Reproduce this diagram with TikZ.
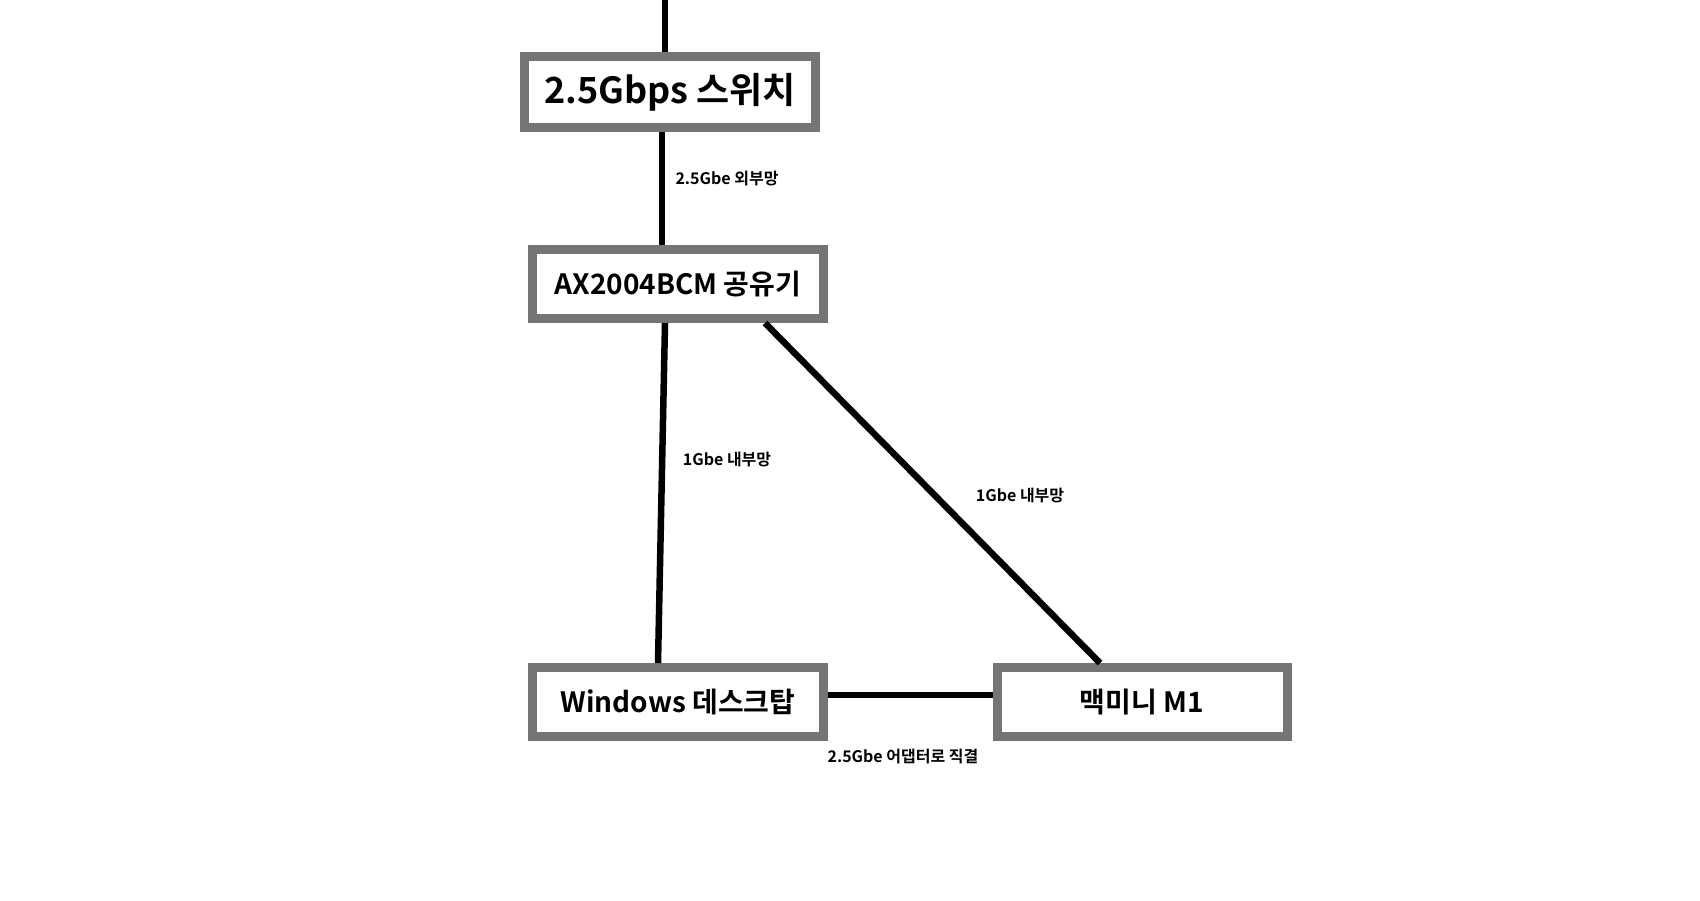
\documentclass[tikz,border=0pt]{standalone}
\usepackage{fontspec}
\newfontfamily\kr{Noto Sans CJK KR}[BoldFont={* Bold}]
\begin{document}
\begin{tikzpicture}[x=1pt,y=-1pt,
  box/.style={draw=boxgray,line width=9pt,fill=white,inner sep=0pt,font=\kr\bfseries},
  wire/.style={line width=6.5pt},
  lbl/.style={font=\kr\bfseries\fontsize{16}{18}\selectfont}]
\definecolor{boxgray}{HTML}{757575}
\useasboundingbox[fill=white] (0,0) rectangle (1700,900);
\coordinate (top) at (665,0);
\node[box,minimum width=291pt,minimum height=71pt,font=\kr\bfseries\fontsize{36}{40}\selectfont] (sw) at (670,92) {2.5Gbps 스위치};
\node[box,minimum width=291pt,minimum height=69pt,font=\kr\bfseries\fontsize{28}{32}\selectfont] (rt) at (678,284) {AX2004BCM 공유기};
\node[box,minimum width=291pt,minimum height=69pt,font=\kr\bfseries\fontsize{28}{32}\selectfont] (win) at (678,702) {Windows 데스크탑};
\node[box,minimum width=290pt,minimum height=69pt,font=\kr\bfseries\fontsize{28}{32}\selectfont] (mac) at (1142,702) {맥미니 M1};
\begin{scope}[on background layer/.try]
\end{scope}
\draw[wire] (top) -- ([xshift=-5pt]sw.north);
\draw[wire] ([xshift=-8pt]sw.south) -- ([xshift=-16pt]rt.north);
\draw[wire] ([xshift=-13pt]rt.south) -- ([xshift=-20pt]win.north);
\draw[wire] ([xshift=87pt]rt.south) -- ([xshift=-42pt]mac.north);
\draw[wire] ([yshift=7pt]win.east) -- ([yshift=7pt]mac.west);
\node[lbl] (l1) at (727,179) {2.5Gbe 외부망};
\node[lbl] (l2) at (727,460) {1Gbe 내부망};
\node[lbl] (l3) at (1020,496) {1Gbe 내부망};
\node[lbl] (l4) at (903,756) {2.5Gbe 어댑터로 직결};
\end{tikzpicture}
\end{document}
